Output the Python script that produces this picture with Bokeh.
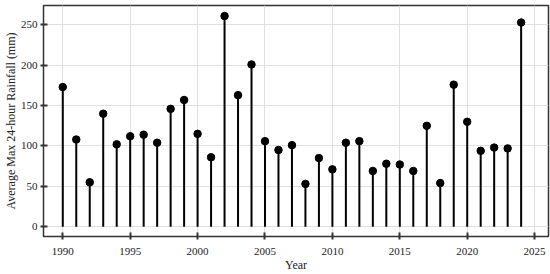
from bokeh.plotting import figure
from bokeh.models import ColumnDataSource, FixedTicker, Range1d
from bokeh.embed import file_html
from bokeh.resources import INLINE

years = list(range(1990, 2025))
rainfall = [173, 108, 55, 140, 102, 112, 114, 104, 146, 157,
            115, 86, 261, 163, 201, 106, 95, 101, 53, 85,
            71, 104, 106, 69, 78, 77, 69, 125, 54, 176,
            130, 94, 98, 97, 253]
x_ticks = [1990, 1995, 2000, 2005, 2010, 2015, 2020, 2025]
y_ticks = [0, 50, 100, 150, 200, 250]

src = ColumnDataSource(data=dict(year=years, val=rainfall, zero=[0] * len(years)))

p = figure(width=550, height=274, output_backend="svg", toolbar_location=None,
           x_range=Range1d(1988.57, 2026.03), y_range=Range1d(-12.2, 274.1),
           min_border_top=5, min_border_right=2, min_border_left=42, min_border_bottom=35)

p.segment(x0="year", y0="zero", x1="year", y1="val", source=src,
          line_color="black", line_width=2)
p.scatter(x="year", y="val", source=src, size=7.5, fill_color="black", line_color="black")

font = "Liberation Serif"
p.background_fill_color = "white"
p.border_fill_color = "white"
p.outline_line_color = "#333333"
p.outline_line_width = 1.5

for ax in (p.xaxis[0], p.yaxis[0]):
    ax.axis_line_color = None
    ax.major_tick_line_color = "#333333"
    ax.major_tick_line_width = 2
    ax.minor_tick_line_color = None
    ax.major_label_text_font = font
    ax.major_label_text_font_size = "11px"
    ax.major_label_text_color = "#222222"
    ax.axis_label_text_font = font
    ax.axis_label_text_font_size = "12px"
    ax.axis_label_text_font_style = "normal"
    ax.axis_label_text_color = "#222222"
    ax.axis_label_standoff = 0

p.xaxis.ticker = FixedTicker(ticks=x_ticks)
p.yaxis.ticker = FixedTicker(ticks=y_ticks)
p.xaxis.major_tick_in = 4
p.xaxis.major_tick_out = 3
p.yaxis.major_tick_in = 4
p.yaxis.major_tick_out = 3
p.xaxis.major_label_standoff = 8
p.yaxis.major_label_standoff = 3
p.xaxis.axis_label = "Year"
p.yaxis.axis_label = "Average Max 24-hour Rainfall (mm)"

p.xgrid.grid_line_color = "#e0e0e0"
p.ygrid.grid_line_color = "#e0e0e0"
p.xgrid.grid_line_width = 1
p.ygrid.grid_line_width = 1

open("out.html", "w").write(file_html(p, INLINE))
